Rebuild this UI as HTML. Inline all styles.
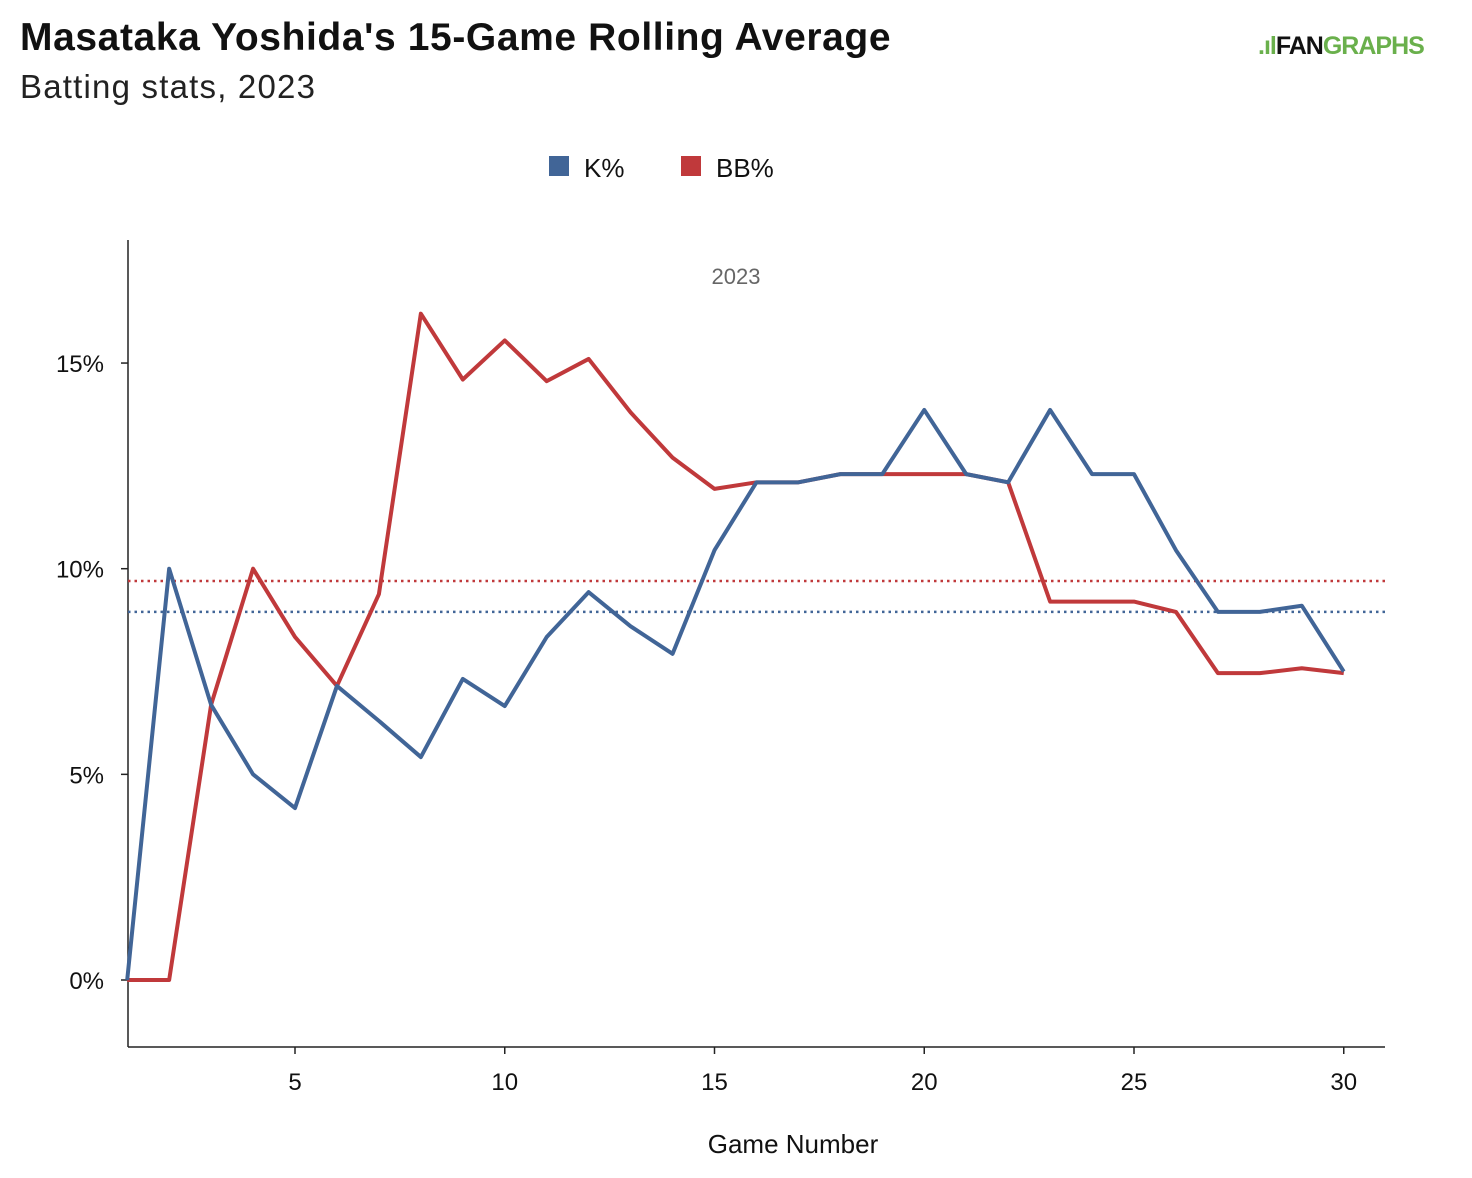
<!DOCTYPE html>
<html><head><meta charset="utf-8"><style>
body{margin:0;width:1472px;height:1178px;background:#fff;font-family:"Liberation Sans",sans-serif;overflow:hidden;position:relative}
.t{position:absolute;white-space:nowrap}
</style></head><body>
<div class="t" style="left:20px;top:16px;font-size:39px;font-weight:bold;color:#111;letter-spacing:0.6px">Masataka Yoshida's 15-Game Rolling Average</div>
<div class="t" style="left:20px;top:68px;font-size:33px;color:#222;letter-spacing:1.2px">Batting stats, 2023</div>
<div class="t" style="left:1258px;top:32px;font-size:25px;font-weight:bold;letter-spacing:-1px"><span style="color:#6ab04c">.ıl</span><span style="color:#111">FAN</span><span style="color:#6ab04c">GRAPHS</span></div>
<svg id="c" width="1472" height="1178" style="position:absolute;left:0;top:0"></svg>
<script>
const games=[1,2,3,4,5,6,7,8,9,10,11,12,13,14,15,16,17,18,19,20,21,22,23,24,25,26,27,28,29,30];
const kPct=[0,10,6.69,5.0,4.18,7.15,6.3,5.42,7.32,6.66,8.34,9.43,8.6,7.93,10.45,12.1,12.1,12.3,12.3,13.86,12.3,12.1,13.86,12.3,12.3,10.45,8.95,8.95,9.1,7.5];
const bbPct=[0,0,6.69,10,8.34,7.15,9.38,16.2,14.6,15.55,14.56,15.1,13.8,12.7,11.94,12.1,12.1,12.3,12.3,12.3,12.3,12.1,9.2,9.2,9.2,8.95,7.46,7.46,7.58,7.46];
const kAvg=8.95, bbAvg=9.7;
const xTicks=[5,10,15,20,25,30];
const yTicks=[0,5,10,15];
const yLabels=["0%","5%","10%","15%"];
const svg=document.getElementById('c');const NS='http://www.w3.org/2000/svg';
const x=g=>295+(g-5)*41.95, y=v=>980-v*41.13;
function mk(t,a,txt){const e=document.createElementNS(NS,t);for(const k in a)e.setAttribute(k,a[k]);if(txt!==undefined)e.textContent=txt;svg.appendChild(e);return e;}
let e;
e=mk('line',{x1:128,y1:240,x2:128,y2:1047,stroke:'#222','stroke-width':1.5});


e=mk('line',{x1:128,y1:1047,x2:1385,y2:1047,stroke:'#222','stroke-width':1.5});


xTicks.forEach(t=>{
 mk('line',{x1:x(t),y1:1047,x2:x(t),y2:1054,stroke:'#222','stroke-width':1.5});
 e=mk('text',{x:x(t),y:1090,'text-anchor':'middle','font-size':24,fill:'#111'},t);
 
 
});
yTicks.forEach((t,i)=>{
 mk('line',{x1:121,y1:y(t),x2:128,y2:y(t),stroke:'#222','stroke-width':1.5});
 e=mk('text',{x:104,y:y(t)+9,'text-anchor':'end','font-size':24,fill:'#111'},yLabels[i]);
 
 
});
e=mk('text',{x:793,y:1153,'text-anchor':'middle','font-size':26,fill:'#111'},'Game Number');


e=mk('text',{x:736,y:284,'text-anchor':'middle','font-size':22,fill:'#666'},'2023');


e=mk('line',{x1:128,y1:y(bbAvg),x2:1385,y2:y(bbAvg),stroke:'#c0393b','stroke-width':2.5,'stroke-dasharray':'2.5,4'});


e=mk('line',{x1:128,y1:y(kAvg),x2:1385,y2:y(kAvg),stroke:'#416597','stroke-width':2.5,'stroke-dasharray':'2.5,4'});


e=mk('polyline',{points:bbPct.map((v,i)=>x(games[i])+','+y(v)).join(' '),fill:'none',stroke:'#c0393b','stroke-width':4,'stroke-linejoin':'round'});


e=mk('polyline',{points:kPct.map((v,i)=>x(games[i])+','+y(v)).join(' '),fill:'none',stroke:'#416597','stroke-width':4,'stroke-linejoin':'round'});


e=mk('rect',{x:549,y:156,width:20,height:20,fill:'#416597'});


e=mk('text',{x:584,y:177,'font-size':26,fill:'#111'},'K%');


e=mk('rect',{x:681,y:156,width:20,height:20,fill:'#c0393b'});


e=mk('text',{x:716,y:177,'font-size':26,fill:'#111'},'BB%');


</script>
</body></html>
